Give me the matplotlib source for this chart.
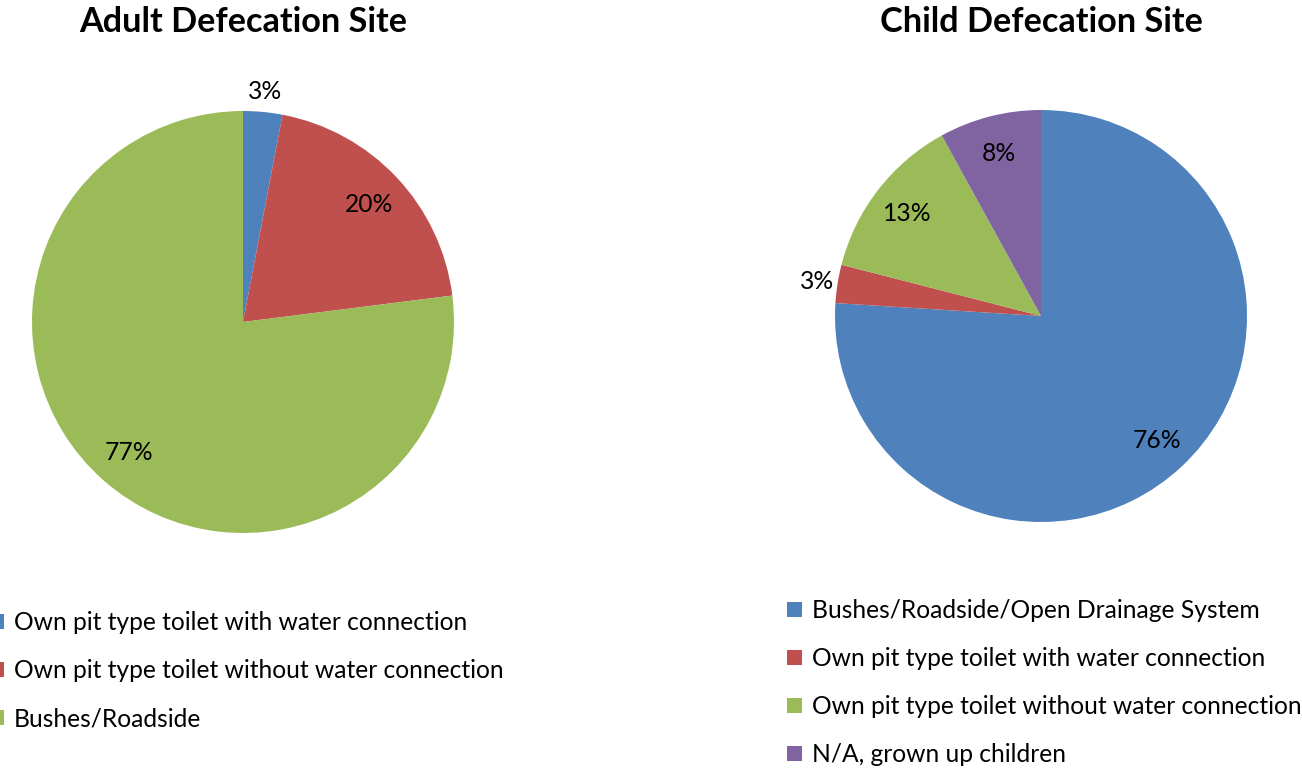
import matplotlib
matplotlib.use("Agg")
import matplotlib.pyplot as plt
from matplotlib.patches import Patch
import numpy as np

plt.rcParams['font.family'] = ['Lato', 'DejaVu Sans']

W, H = 1302, 768
fig = plt.figure(figsize=(W / 100, H / 100), dpi=100)

adult_labels = ["Own pit type toilet with water connection",
                "Own pit type toilet without water connection",
                "Bushes/Roadside"]
adult_values = [3, 20, 77]
adult_colors = ["#4F81BD", "#C0504D", "#9BBB59"]

child_labels = ["Bushes/Roadside/Open Drainage System",
                "Own pit type toilet with water connection",
                "Own pit type toilet without water connection",
                "N/A, grown up children"]
child_values = [76, 3, 13, 8]
child_colors = ["#4F81BD", "#C0504D", "#9BBB59", "#8064A2"]

FS = 17.7


def pie_axes(cx, cy, r):
    return fig.add_axes([(cx - r) / W, 1 - (cy + r) / H, 2 * r / W, 2 * r / H])


def draw_pie(ax, values, colors):
    wedges = ax.pie(values, colors=colors, startangle=90, counterclock=False,
                    radius=1, wedgeprops=dict(linewidth=0))[0]
    ax.set_xlim(-1, 1)
    ax.set_ylim(-1, 1)
    ax.set_aspect('equal')
    ax.axis('off')
    total = sum(values)
    for w, v in zip(wedges, values):
        ang = np.deg2rad((w.theta1 + w.theta2) / 2)
        d = 1.10 if v / total < 0.05 else 0.82
        ax.text(d * np.cos(ang), d * np.sin(ang) - 0.005, f"{round(100 * v / total)}%",
                ha='center', va='center', fontsize=FS, color='black', clip_on=False)
    return wedges


ax1 = pie_axes(243, 322, 211)
draw_pie(ax1, adult_values, adult_colors)
ax2 = pie_axes(1041, 316, 206)
draw_pie(ax2, child_values, child_colors)

fig.text(243 / W, 1 - 22 / H, "Adult Defecation Site", ha='center', va='center',
         fontsize=24.7, fontweight='bold')
fig.text(1041 / W, 1 - 22 / H, "Child Defecation Site", ha='center', va='center',
         fontsize=24.7, fontweight='bold')

leg_kw = dict(loc='upper left', frameon=False, fontsize=FS, handlelength=0.6,
              handleheight=0.6, handletextpad=0.4, labelspacing=1.02,
              borderaxespad=0, borderpad=0)
h1 = [Patch(facecolor=c, edgecolor='none') for c in adult_colors]
fig.legend(h1, adult_labels, bbox_to_anchor=(-10.5 / W, 1 - 611 / H), **leg_kw)
h2 = [Patch(facecolor=c, edgecolor='none') for c in child_colors]
fig.legend(h2, child_labels, bbox_to_anchor=(787 / W, 1 - 599 / H), **leg_kw)

fig.savefig("out.png", dpi=100)
